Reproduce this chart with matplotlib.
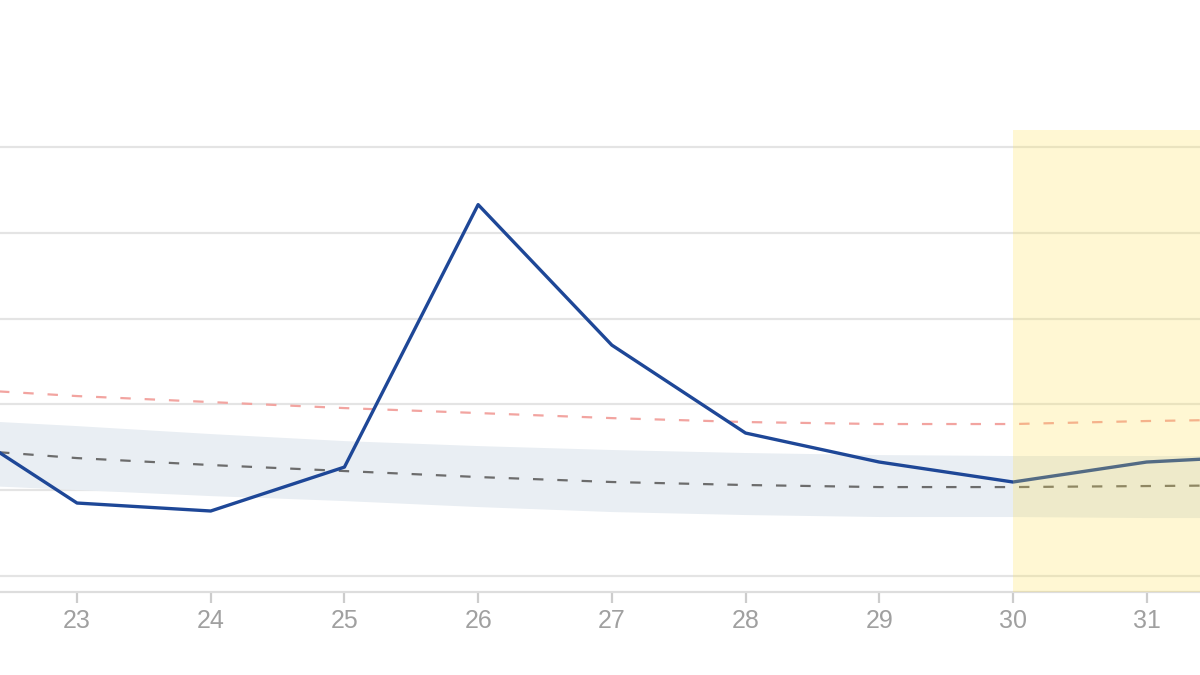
import matplotlib
matplotlib.use('Agg')
import matplotlib.pyplot as plt

# days shown in the crop (22 and 32 fall just outside the view)
days = [22, 23, 24, 25, 26, 27, 28, 29, 30, 31, 32]

actual = [18.65, 8.51, 7.58, 12.70, 43.30, 26.92, 16.67, 13.29, 10.96, 13.29, 14.10]
upper_ref = [21.91, 20.98, 20.28, 19.58, 19.00, 18.41, 17.95, 17.72, 17.72, 18.07, 18.30]
mean_ref = [14.92, 13.75, 12.94, 12.24, 11.54, 10.96, 10.61, 10.37, 10.37, 10.49, 10.61]
band_high = [18.30, 17.48, 16.55, 15.73, 15.15, 14.69, 14.34, 14.10, 13.99, 13.99, 13.99]
band_low = [10.72, 10.02, 9.32, 8.74, 8.04, 7.46, 7.11, 6.88, 6.88, 6.76, 6.76]

tick_days = [23, 24, 25, 26, 27, 28, 29, 30, 31]
grid_vals = [0, 10, 20, 30, 40, 50]
highlight_from = 30

plt.rcParams['lines.scale_dashes'] = False

fig = plt.figure(figsize=(12, 6.75), dpi=100)
ax = fig.add_axes([0, 0.123, 1, 0.6844])

ax.fill_between(days, band_low, band_high, color='#e9eef3', lw=0, zorder=2)
ax.plot(days, upper_ref, color='#f2a4a0', lw=1.6, dashes=(7.5, 10), zorder=3)
ax.plot(days, mean_ref, color='#6c6c6c', lw=1.6, dashes=(7.5, 10), zorder=3)
ax.plot(days, actual, color='#1e4797', lw=2.4, zorder=4)

# highlighted period, tinted over everything
ax.axvspan(highlight_from, days[-1], color='#ffe04a', alpha=0.24, lw=0, zorder=5)

ax.set_xlim(22.424, 31.399)
ax.set_ylim(-1.86, 52)

ax.set_yticks(grid_vals)
ax.yaxis.grid(True, color='#e4e4e4', lw=1.6, zorder=1)
ax.set_axisbelow(True)
ax.tick_params(axis='y', left=False, labelleft=False)

ax.set_xticks(tick_days)
ax.set_xticklabels([str(d) for d in tick_days], fontsize=18,
                   color='#a0a0a0', family=['Liberation Sans', 'DejaVu Sans'])
ax.tick_params(axis='x', direction='out', length=8, width=1.6,
               color='#cccccc', pad=4)

for side in ['top', 'left', 'right']:
    ax.spines[side].set_visible(False)
ax.spines['bottom'].set_color('#dddddd')
ax.spines['bottom'].set_linewidth(1.6)

fig.savefig('out.png', dpi=100)
